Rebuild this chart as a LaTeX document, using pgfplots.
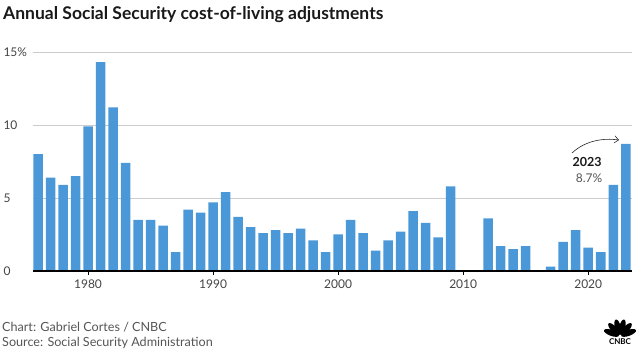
\documentclass[border=0pt]{standalone}
\usepackage{fontspec}
\setmainfont{Lato}
\usepackage{pgfplots}
\pgfplotsset{compat=1.18}
\usetikzlibrary{arrows.meta}
\definecolor{barblue}{HTML}{4A98D8}
\definecolor{ticktext}{HTML}{444444}
\definecolor{foot}{HTML}{555555}
\begin{document}
\begin{tikzpicture}
\useasboundingbox (0,0) rectangle (637bp,352bp);
\begin{axis}[
  at={(33bp,81bp)}, anchor=south west,
  scale only axis, width=599bp, height=219bp,
  xmin=1975.6, xmax=2023.5, ymin=0, ymax=15,
  separate axis lines,
  axis x line*=bottom, axis y line*=left,
  y axis line style={draw=none},
  x axis line style={black, line width=1.2pt},
  ytick={0,5,10,15}, yticklabels={0,5,10,15\%},
  ytick style={draw=none},
  xtick={1980,1990,2000,2010,2020},
  xtick style={black, line width=0.9pt},
  tick align=outside, major tick length=4bp,
  ymajorgrids, major grid style={black!20, line width=0.8pt},
  /pgf/number format/1000 sep={},
  /pgf/number format/assume math mode=true,
  ticklabel style={font=\fontsize{12bp}{14bp}\selectfont, text=ticktext},
  yticklabel style={anchor=west, xshift=-29bp},
  xticklabel style={yshift=-1bp},
  clip=false,
]
\addplot[ybar, bar width=0.76, fill=barblue, draw=none, restrict y to domain=0.05:20] coordinates {
(1976,8.0) (1977,6.4) (1978,5.9) (1979,6.5) (1980,9.9) (1981,14.3)
(1982,11.2) (1983,7.4) (1984,3.5) (1985,3.5) (1986,3.1) (1987,1.3)
(1988,4.2) (1989,4.0) (1990,4.7) (1991,5.4) (1992,3.7) (1993,3.0)
(1994,2.6) (1995,2.8) (1996,2.6) (1997,2.9) (1998,2.1) (1999,1.3)
(2000,2.5) (2001,3.5) (2002,2.6) (2003,1.4) (2004,2.1) (2005,2.7)
(2006,4.1) (2007,3.3) (2008,2.3) (2009,5.8) (2010,0) (2011,0)
(2012,3.6) (2013,1.7) (2014,1.5) (2015,1.7) (2016,0) (2017,0.3)
(2018,2.0) (2019,2.8) (2020,1.6) (2021,1.3) (2022,5.9) (2023,8.7)
};
\draw[black, line width=1.2pt] (rel axis cs:0,0) -- (rel axis cs:1,0);
\end{axis}
% title
\node[anchor=west, inner sep=0pt, font=\fontsize{17.5bp}{20bp}\selectfont\bfseries, text=black!90]
  at (3bp,337bp) {Annual Social Security cost-of-living adjustments};
% footer
\node[anchor=west, inner sep=0pt, font=\fontsize{12.6bp}{14bp}\selectfont, text=foot]
  at (2bp,25bp) {Chart: Gabriel Cortes / CNBC};
\node[anchor=west, inner sep=0pt, font=\fontsize{12.6bp}{14bp}\selectfont, text=foot]
  at (2bp,9bp) {Source: Social Security Administration};
% annotation
\node[inner sep=0pt, font=\fontsize{12.5bp}{14bp}\selectfont\bfseries, text=black!90]
  at (587bp,190bp) {2023};
\node[inner sep=0pt, font=\fontsize{12bp}{14bp}\selectfont, text=foot]
  at (589bp,174bp) {8.7\%};
\draw[-{Straight Barb[length=4bp,width=7bp]}, line width=0.6pt, black!85]
  (572bp,199bp) .. controls (586bp,212bp) and (604bp,214bp) .. (619bp,212bp);
% CNBC peacock
\foreach \a in {20,48,76,104,132,160}{
  \fill[black, rotate around={\a-90:(620bp,16bp)}] (620bp,25bp) ellipse (3bp and 8bp);
}
\fill[white] (620bp,16bp) circle (1.5bp);
\node[inner sep=0pt, font=\fontsize{8bp}{9bp}\selectfont\bfseries] at (620bp,10bp) {CNBC};
\end{tikzpicture}
\end{document}
